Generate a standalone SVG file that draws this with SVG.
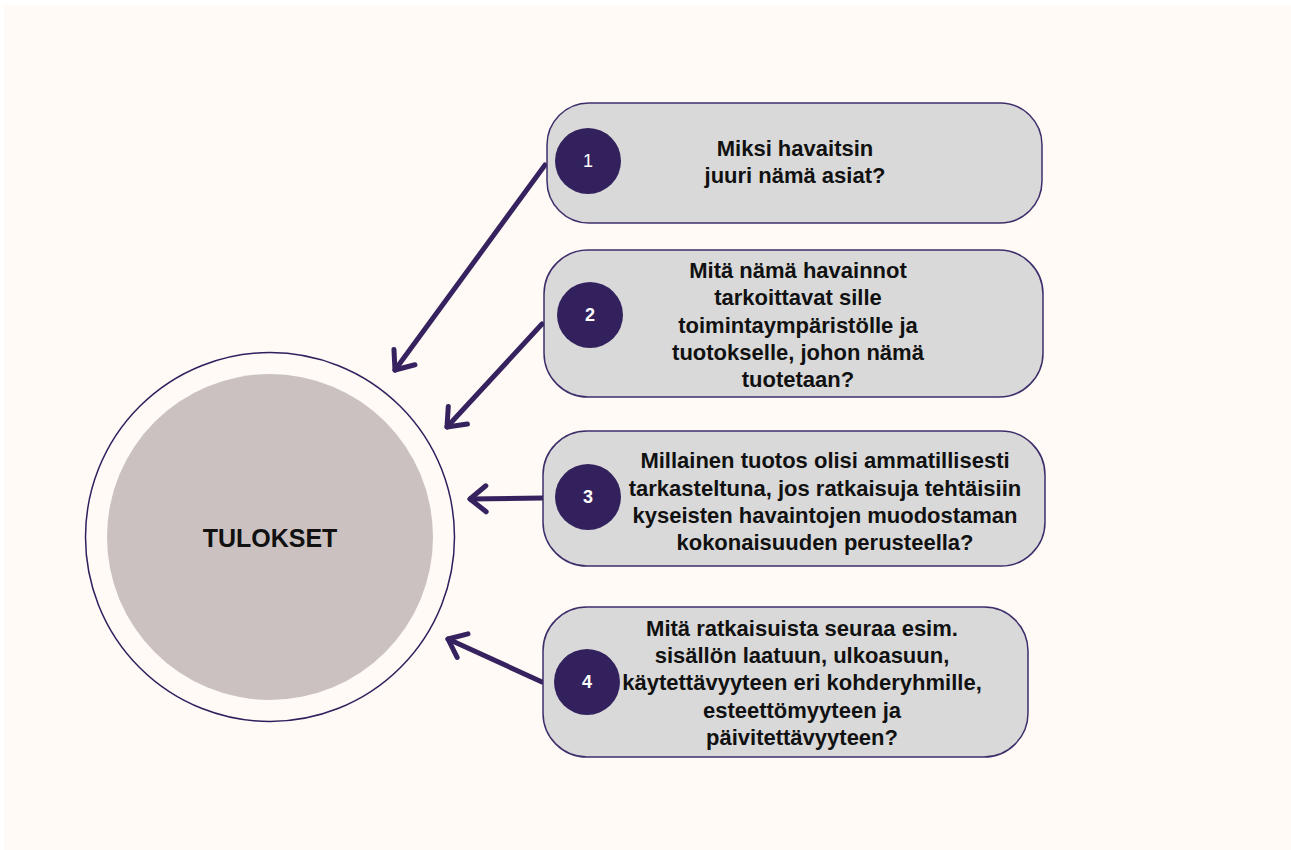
<svg xmlns="http://www.w3.org/2000/svg" width="1291" height="850" viewBox="0 0 1291 850">
  <style>
    .box { fill: #d9d9d9; stroke: #3d2e6b; stroke-width: 1.5; }
    .badge { fill: #33215e; }
    .num { fill: #ffffff; font-family: "Liberation Sans", Arial, sans-serif; font-size: 18px; text-anchor: middle; dominant-baseline: central; }
    .q { fill: #111111; font-family: "Liberation Sans", Arial, sans-serif; font-weight: bold; font-size: 22px; text-anchor: middle; dominant-baseline: central; }
    .link { fill: none; stroke: #35225f; stroke-width: 5; stroke-linecap: round; marker-end: url(#chevron); }
  </style>
  <defs>
    <marker id="chevron" markerUnits="userSpaceOnUse" viewBox="-22 -18 26 36" markerWidth="26" markerHeight="36" refX="0" refY="0" orient="auto">
      <path d="M-16,-13 L0,0 L-16,13" fill="none" stroke="#35225f" stroke-width="5" stroke-linecap="round" stroke-linejoin="round"/>
    </marker>
  </defs>

  <!-- page -->
  <rect x="0" y="0" width="1291" height="850" fill="#ffffff"/>
  <rect x="4" y="5" width="1287" height="845" fill="#fffaf5"/>

  <!-- central result node -->
  <g id="tulokset">
    <circle cx="270" cy="537" r="184.5" fill="#fffaf5" stroke="#2e1f5e" stroke-width="1.5"/>
    <circle cx="270" cy="537" r="163" fill="#cbc1c1"/>
    <text x="270" y="538" class="q" style="font-size:25px">TULOKSET</text>
  </g>

  <!-- connectors -->
  <g id="connectors">
    <line class="link" x1="545" y1="165" x2="395" y2="370"/>
    <line class="link" x1="542" y1="324" x2="447" y2="427"/>
    <line class="link" x1="543" y1="498" x2="470" y2="499"/>
    <line class="link" x1="542" y1="682" x2="448" y2="639"/>
  </g>

  <!-- question 1 -->
  <g id="q1">
    <rect class="box" x="547" y="103" width="495" height="120" rx="42"/>
    <circle class="badge" cx="588" cy="161" r="33"/>
    <text class="num" x="588" y="161">1</text>
    <text class="q" x="795" y="148">Miksi havaitsin</text>
    <text class="q" x="795" y="175">juuri nämä asiat?</text>
  </g>

  <!-- question 2 -->
  <g id="q2">
    <rect class="box" x="544" y="250" width="499" height="147" rx="44"/>
    <circle class="badge" cx="590" cy="315" r="33"/>
    <text class="num" x="590" y="315" style="font-weight:bold">2</text>
    <text class="q" x="798" y="270">Mitä nämä havainnot</text>
    <text class="q" x="798" y="297">tarkoittavat sille</text>
    <text class="q" x="798" y="325">toimintaympäristölle ja</text>
    <text class="q" x="798" y="352">tuotokselle, johon nämä</text>
    <text class="q" x="798" y="379">tuotetaan?</text>
  </g>

  <!-- question 3 -->
  <g id="q3">
    <rect class="box" x="543" y="431" width="502" height="135" rx="44"/>
    <circle class="badge" cx="588" cy="497" r="33"/>
    <text class="num" x="588" y="497" style="font-weight:bold">3</text>
    <text class="q" x="825" y="460">Millainen tuotos olisi ammatillisesti</text>
    <text class="q" x="825" y="488">tarkasteltuna, jos ratkaisuja tehtäisiin</text>
    <text class="q" x="825" y="515">kyseisten havaintojen muodostaman</text>
    <text class="q" x="825" y="542">kokonaisuuden perusteella?</text>
  </g>

  <!-- question 4 -->
  <g id="q4">
    <rect class="box" x="543" y="607" width="485" height="150" rx="44"/>
    <circle class="badge" cx="587" cy="682" r="33"/>
    <text class="num" x="587" y="682" style="font-weight:bold">4</text>
    <text class="q" x="802" y="628">Mitä ratkaisuista seuraa esim.</text>
    <text class="q" x="802" y="655">sisällön laatuun, ulkoasuun,</text>
    <text class="q" x="802" y="682">käytettävyyteen eri kohderyhmille,</text>
    <text class="q" x="802" y="710">esteettömyyteen ja</text>
    <text class="q" x="802" y="737">päivitettävyyteen?</text>
  </g>
</svg>
